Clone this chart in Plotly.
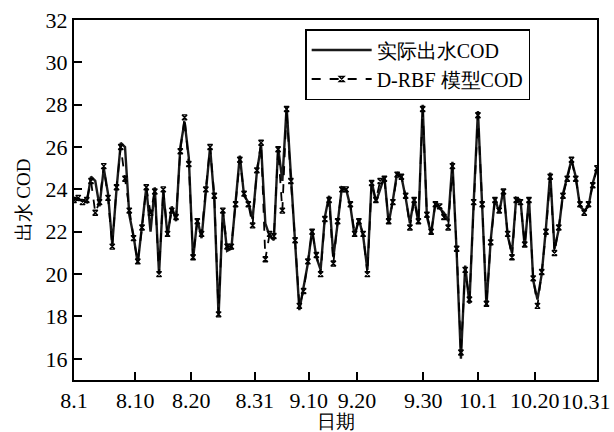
import plotly.graph_objects as go

actual_cod = [23.6, 23.5, 23.5, 23.4, 24.6, 24.4, 23.2, 25.0, 23.8, 21.4,
              24.0, 26.2, 26.0, 22.8, 21.8, 20.5, 22.3, 24.1, 22.0, 24.1,
              20.0, 23.9, 21.8, 23.2, 22.5, 26.0, 27.2, 25.5, 20.7, 22.6,
              21.7, 24.0, 26.0, 23.5, 18.0, 23.0, 21.1, 21.2, 23.4, 25.6,
              23.7, 23.4, 22.6, 24.8, 26.1, 22.4, 21.8, 21.6, 26.0, 24.4,
              27.9, 24.5, 21.5, 18.3, 19.4, 20.5, 22.1, 20.8, 20.2, 22.7,
              23.7, 20.8, 22.4, 24.1, 24.0, 23.2, 21.8, 22.6, 21.8, 20.2,
              24.4, 23.4, 24.0, 24.6, 22.4, 23.5, 24.8, 24.6, 23.6, 22.4,
              23.6, 22.4, 28.0, 22.7, 21.9, 23.4, 23.1, 22.9, 22.5, 25.3,
              21.0, 16.0, 20.4, 18.6, 23.4, 27.7, 23.2, 18.5, 21.6, 23.6,
              22.9, 24.0, 21.8, 21.0, 23.6, 23.5, 21.3, 23.6, 19.7, 18.8,
              20.0, 22.2, 24.8, 21.2, 22.1, 23.8, 24.6, 25.4, 24.6, 23.2,
              23.0, 23.2, 24.3, 25.0]

model_cod = [23.5, 23.6, 23.4, 23.5, 24.4, 22.9, 23.4, 25.1, 23.6, 21.3,
             24.1, 26.0, 24.5, 23.0, 21.7, 20.6, 22.2, 24.1, 22.9, 23.9,
             20.0, 24.0, 21.9, 23.0, 22.7, 25.8, 27.4, 25.2, 20.8, 22.5,
             21.9, 24.0, 26.0, 23.7, 18.1, 23.0, 21.3, 21.3, 23.3, 25.4,
             23.8, 23.3, 22.3, 24.9, 26.2, 20.7, 21.9, 21.8, 25.9, 23.0,
             27.8, 24.4, 21.6, 18.5, 19.2, 20.6, 22.0, 20.9, 20.0, 22.6,
             23.5, 20.5, 22.5, 24.0, 24.0, 23.3, 21.9, 22.5, 21.9, 20.0,
             24.3, 23.5, 24.4, 24.5, 22.5, 23.4, 24.7, 24.6, 23.7, 22.2,
             23.5, 22.5, 27.8, 22.8, 22.0, 23.3, 23.2, 22.7, 22.2, 25.1,
             21.2, 16.3, 20.2, 18.8, 23.4, 27.5, 23.3, 18.6, 21.5, 23.5,
             23.0, 23.9, 21.9, 20.8, 23.5, 23.4, 21.4, 23.5, 19.8, 18.5,
             20.1, 22.0, 24.6, 21.0, 22.2, 23.7, 24.5, 25.4, 24.5, 23.3,
             22.9, 23.3, 24.2, 25.0]

tick_labels = ["8.1", "8.10", "8.20", "8.31", "9.10", "9.20", "9.30",
               "10.1", "10.20", "10.31"]
tick_fraction = [0.0, 0.117, 0.224, 0.3456, 0.449, 0.541, 0.668, 0.773,
                 0.881, 1.0]

n = len(actual_cod)
idx = list(range(n))
tickvals = [f * (n - 1) for f in tick_fraction]
# last label is drawn as a right-aligned annotation so it stays inside the page
ticktext = tick_labels[:-1] + [""]

FONT = "'Liberation Serif', 'Times New Roman', serif"

fig = go.Figure()
fig.add_trace(go.Scatter(
    x=idx, y=actual_cod, mode="lines", name="实际出水COD",
    line=dict(color="#1a1a1a", width=2.4),
))
fig.add_trace(go.Scatter(
    x=idx, y=model_cod, mode="lines+markers", name="D-RBF 模型COD",
    line=dict(color="#000000", width=1.8, dash="dash"),
    marker=dict(symbol="hourglass-open", size=5, color="#000000",
                line=dict(width=1.4, color="#000000")),
))

axis_common = dict(
    showgrid=False, zeroline=False, showline=True, linecolor="black",
    linewidth=2, mirror=True, ticks="inside", ticklen=8, tickwidth=2,
    tickcolor="black", automargin=False,
    tickfont=dict(family=FONT, size=22, color="black"),
)

fig.update_layout(
    width=614, height=432,
    margin=dict(l=74, r=17, t=20, b=52),
    paper_bgcolor="white", plot_bgcolor="white",
    font=dict(family=FONT, color="black"),
    showlegend=True,
    legend=dict(
        x=0.442, y=0.975, xanchor="left", yanchor="top",
        bordercolor="black", borderwidth=1.5, bgcolor="white",
        font=dict(family=FONT, size=20, color="black"),
        itemwidth=60, tracegroupgap=0,
    ),
    xaxis=dict(
        range=[0, n - 1], tickmode="array", tickvals=tickvals,
        ticktext=ticktext,
        title=dict(text="日期", font=dict(family=FONT, size=19), standoff=10),
        **axis_common,
    ),
    yaxis=dict(
        range=[15, 32], tickmode="array", tickvals=[16, 18, 20, 22, 24, 26, 28, 30, 32],
        title=dict(text="出水 COD", font=dict(family=FONT, size=19), standoff=10),
        **axis_common,
    ),
)

fig.add_annotation(
    x=1, y=0, xref="paper", yref="paper", xanchor="right", yanchor="top",
    xshift=16, yshift=-7, text=tick_labels[-1], showarrow=False,
    font=dict(family=FONT, size=22, color="black"),
)

fig.write_html("out.html")
